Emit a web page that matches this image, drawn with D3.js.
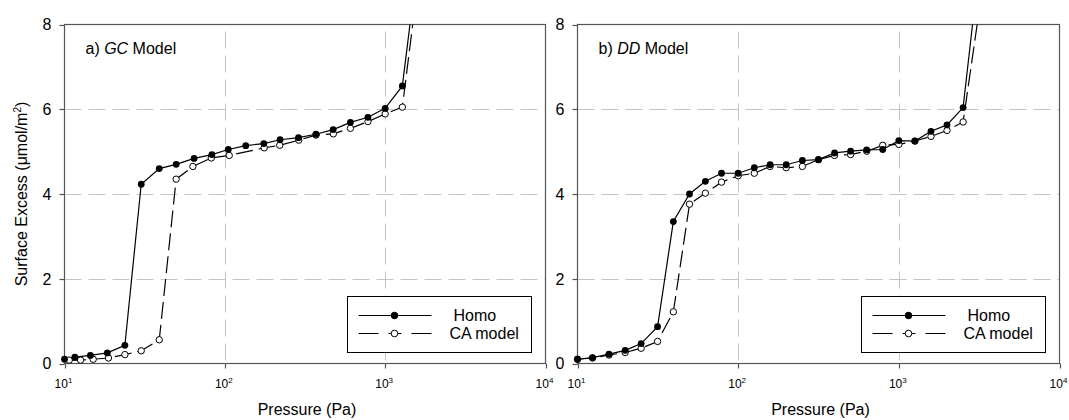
<!DOCTYPE html>
<meta charset="utf-8">
<style>

body { margin: 0; background: #fff; }

text {
  font-family: "Liberation Sans", Arial, sans-serif;
  fill: #000;
}

.grid line {
  stroke: #c4c4c4;
  stroke-width: 1;
  stroke-dasharray: 17,7;
}

.frame {
  fill: none;
  stroke: #555;
  stroke-width: 1.2;
}

.tick line {
  stroke: #555;
  stroke-width: 1.2;
}

.series {
  fill: none;
  stroke: #000;
  stroke-width: 1.2;
}

</style>
<body>
<script src="https://cdn.jsdelivr.net/npm/d3@7/dist/d3.min.js"></script>
<script>

var width = 1069,
    height = 420;

/*
  Axis ticks
*/

var xTicks = [10, 100, 1000, 10000];
var xTickExp = ["1", "2", "3", "4"];
var yTicks = [0, 2, 4, 6, 8];

/*
  a) GC model
*/

var gcHomoP = [10, 11.6, 14.5, 18.5, 23.8, 30.1, 39.0, 49.7, 64.3, 83, 105, 135, 175, 221, 288, 370, 474, 607, 781, 1000, 1280, 1660];
var gcHomoG = [0.10, 0.15, 0.19, 0.25, 0.43, 4.23, 4.60, 4.70, 4.84, 4.93, 5.05, 5.14, 5.19, 5.28, 5.33, 5.41, 5.52, 5.69, 5.81, 6.02, 6.55, 10];

var gcCaP = [10.7, 12.6, 15.1, 18.8, 23.8, 30.1, 39.0, 49.7, 63.2, 82.3, 106.5, 176, 220, 289, 370, 475, 607, 781, 1000, 1280, 1730];
var gcCaG = [0.08, 0.08, 0.10, 0.13, 0.21, 0.30, 0.56, 4.35, 4.65, 4.85, 4.91, 5.09, 5.15, 5.27, 5.39, 5.42, 5.55, 5.71, 5.89, 6.05, 10];

/*
  b) DD model
*/

var ddHomoP = [10, 12.4, 15.7, 19.8, 24.9, 31.5, 39.5, 49.8, 62.5, 78.8, 100, 126, 158, 199, 251, 316, 398, 501, 631, 794, 1000, 1259, 1585, 1995, 2512, 3300];
var ddHomoG = [0.10, 0.14, 0.22, 0.31, 0.47, 0.87, 3.35, 4.00, 4.30, 4.49, 4.49, 4.62, 4.69, 4.69, 4.79, 4.81, 4.97, 5.01, 5.04, 5.05, 5.26, 5.25, 5.48, 5.63, 6.04, 10];

var ddCaP = [10, 12.4, 15.7, 19.8, 24.9, 31.5, 39.5, 49.8, 62.5, 78.8, 100, 126, 158, 199, 251, 316, 398, 501, 631, 794, 1000, 1259, 1585, 1995, 2512, 3660];
var ddCaG = [0.10, 0.13, 0.20, 0.26, 0.36, 0.52, 1.22, 3.76, 4.02, 4.28, 4.43, 4.49, 4.65, 4.62, 4.65, 4.81, 4.91, 4.93, 5.01, 5.15, 5.17, 5.25, 5.36, 5.50, 5.70, 10];

var legendNames = ["Homo", "CA model"];

/*
  Layout
*/

var plotTop = 24.5,
    plotBottom = 363.5;

var panels = [
  { left: 64.5,  right: 545.5,  label: "a) ", italic: "GC", rest: " Model",
    homoP: gcHomoP, homoG: gcHomoG, caP: gcCaP, caG: gcCaG, id: "a" },
  { left: 577.5, right: 1059.5, label: "b) ", italic: "DD", rest: " Model",
    homoP: ddHomoP, homoG: ddHomoG, caP: ddCaP, caG: ddCaG, id: "b" }
];

var svg = d3.select("body").append("svg")
    .attr("width", width)
    .attr("height", height);

function zip(xs, ys) {
  return xs.map(function(x, i) { return { p: x, g: ys[i] }; });
}

panels.forEach(function(pn) {

  var x = d3.scaleLog()
      .domain([10, 10000])
      .range([pn.left, pn.right]);

  var y = d3.scaleLinear()
      .domain([0, 8])
      .range([plotBottom, plotTop]);

  var g = svg.append("g");

  g.append("clipPath")
      .attr("id", "clip-" + pn.id)
    .append("rect")
      .attr("x", pn.left)
      .attr("y", plotTop)
      .attr("width", pn.right - pn.left)
      .attr("height", plotBottom - plotTop);

  // grid
  var grid = g.append("g").attr("class", "grid");

  grid.selectAll(".vg")
      .data(xTicks.slice(1, -1))
      .enter().append("line")
      .attr("x1", function(d) { return Math.round(x(d)) + 0.5; })
      .attr("x2", function(d) { return Math.round(x(d)) + 0.5; })
      .attr("y1", plotTop + 7)
      .attr("y2", plotBottom);

  grid.selectAll(".hg")
      .data(yTicks.slice(1, -1))
      .enter().append("line")
      .attr("x1", pn.left)
      .attr("x2", pn.right)
      .attr("y1", function(d) { return Math.round(y(d)) + 0.5; })
      .attr("y2", function(d) { return Math.round(y(d)) + 0.5; });

  // ticks
  var ticks = g.append("g").attr("class", "tick");

  ticks.selectAll(".xt")
      .data(xTicks)
      .enter().append("line")
      .attr("x1", function(d) { return Math.round(x(d)) + 0.5; })
      .attr("x2", function(d) { return Math.round(x(d)) + 0.5; })
      .attr("y1", plotBottom)
      .attr("y2", plotBottom + 5);

  ticks.selectAll(".yt")
      .data(yTicks)
      .enter().append("line")
      .attr("x1", pn.left - 5)
      .attr("x2", pn.left)
      .attr("y1", function(d) { return Math.round(y(d)) + 0.5; })
      .attr("y2", function(d) { return Math.round(y(d)) + 0.5; });

  g.append("rect")
      .attr("class", "frame")
      .attr("x", pn.left)
      .attr("y", plotTop)
      .attr("width", pn.right - pn.left)
      .attr("height", plotBottom - plotTop);

  // tick labels
  var xl = g.selectAll(".xl")
      .data(xTicks)
      .enter().append("text")
      .attr("x", function(d) { return x(d) - 1; })
      .attr("y", plotBottom + 24)
      .attr("text-anchor", "middle")
      .style("font-size", "12px");
  xl.append("tspan").text("10");
  xl.append("tspan")
      .attr("dy", -5)
      .style("font-size", "8px")
      .text(function(d, i) { return xTickExp[i]; });

  g.selectAll(".yl")
      .data(yTicks)
      .enter().append("text")
      .attr("x", pn.left - 13)
      .attr("y", function(d) { return y(d); })
      .attr("dy", "0.36em")
      .attr("text-anchor", "end")
      .style("font-size", "16px")
      .text(function(d) { return d; });

  // axis title
  g.append("text")
      .attr("x", (pn.left + pn.right) / 2 + 2)
      .attr("y", 415)
      .attr("text-anchor", "middle")
      .style("font-size", "16px")
      .text("Pressure (Pa)");

  // panel label
  var lab = g.append("text")
      .attr("x", pn.left + 21)
      .attr("y", 54)
      .style("font-size", "16px");
  lab.append("tspan").text(pn.label);
  lab.append("tspan").style("font-style", "italic").text(pn.italic);
  lab.append("tspan").text(pn.rest);

  // series
  var line = d3.line()
      .x(function(d) { return x(d.p); })
      .y(function(d) { return y(d.g); });

  var homo = zip(pn.homoP, pn.homoG);
  var ca = zip(pn.caP, pn.caG);

  var clipped = g.append("g").attr("clip-path", "url(#clip-" + pn.id + ")");

  clipped.append("path")
      .datum(ca)
      .attr("class", "series")
      .attr("stroke-dasharray", "17,6")
      .attr("d", line);

  clipped.append("path")
      .datum(homo)
      .attr("class", "series")
      .attr("d", line);

  g.selectAll(".ca")
      .data(ca.filter(function(d) { return d.g <= 8; }))
      .enter().append("circle")
      .attr("cx", function(d) { return x(d.p); })
      .attr("cy", function(d) { return y(d.g); })
      .attr("r", 3.2)
      .style("fill", "#fff")
      .style("stroke", "#000")
      .style("stroke-width", 1);

  g.selectAll(".homo")
      .data(homo.filter(function(d) { return d.g <= 8; }))
      .enter().append("circle")
      .attr("cx", function(d) { return x(d.p); })
      .attr("cy", function(d) { return y(d.g); })
      .attr("r", 3.4)
      .style("fill", "#000");

  // legend
  var lx = pn.right - 198,
      ly = plotBottom - 67;

  var leg = g.append("g").attr("transform", "translate(" + lx + "," + ly + ")");

  leg.append("rect")
      .attr("width", 184)
      .attr("height", 56)
      .style("fill", "#fff")
      .style("stroke", "#000")
      .style("stroke-width", 1);

  var rows = leg.selectAll(".row")
      .data(legendNames)
      .enter().append("g")
      .attr("transform", function(d, i) { return "translate(0," + (19 + i * 18) + ")"; });

  rows.append("line")
      .attr("x1", 11)
      .attr("x2", 84)
      .style("stroke", "#000")
      .style("stroke-width", 1.2)
      .attr("stroke-dasharray", function(d, i) { return i ? "20,10,13,10,20" : null; });

  rows.append("circle")
      .attr("cx", 47)
      .attr("r", 3.3)
      .style("fill", function(d, i) { return i ? "#fff" : "#000"; })
      .style("stroke", "#000")
      .style("stroke-width", 1);

  rows.append("text")
      .attr("x", function(d, i) { return i ? 102 : 106; })
      .attr("dy", "0.36em")
      .style("font-size", "16px")
      .text(function(d) { return d; });
});

// y axis title
var yt = svg.append("text")
    .attr("transform", "translate(27," + (plotTop + plotBottom) / 2 + ") rotate(-90)")
    .attr("text-anchor", "middle")
    .style("font-size", "16px");
yt.append("tspan").text("Surface Excess (\u03bcmol/m");
yt.append("tspan").attr("dy", -6).style("font-size", "10px").text("2");
yt.append("tspan").attr("dy", 6).text(")");

</script>
